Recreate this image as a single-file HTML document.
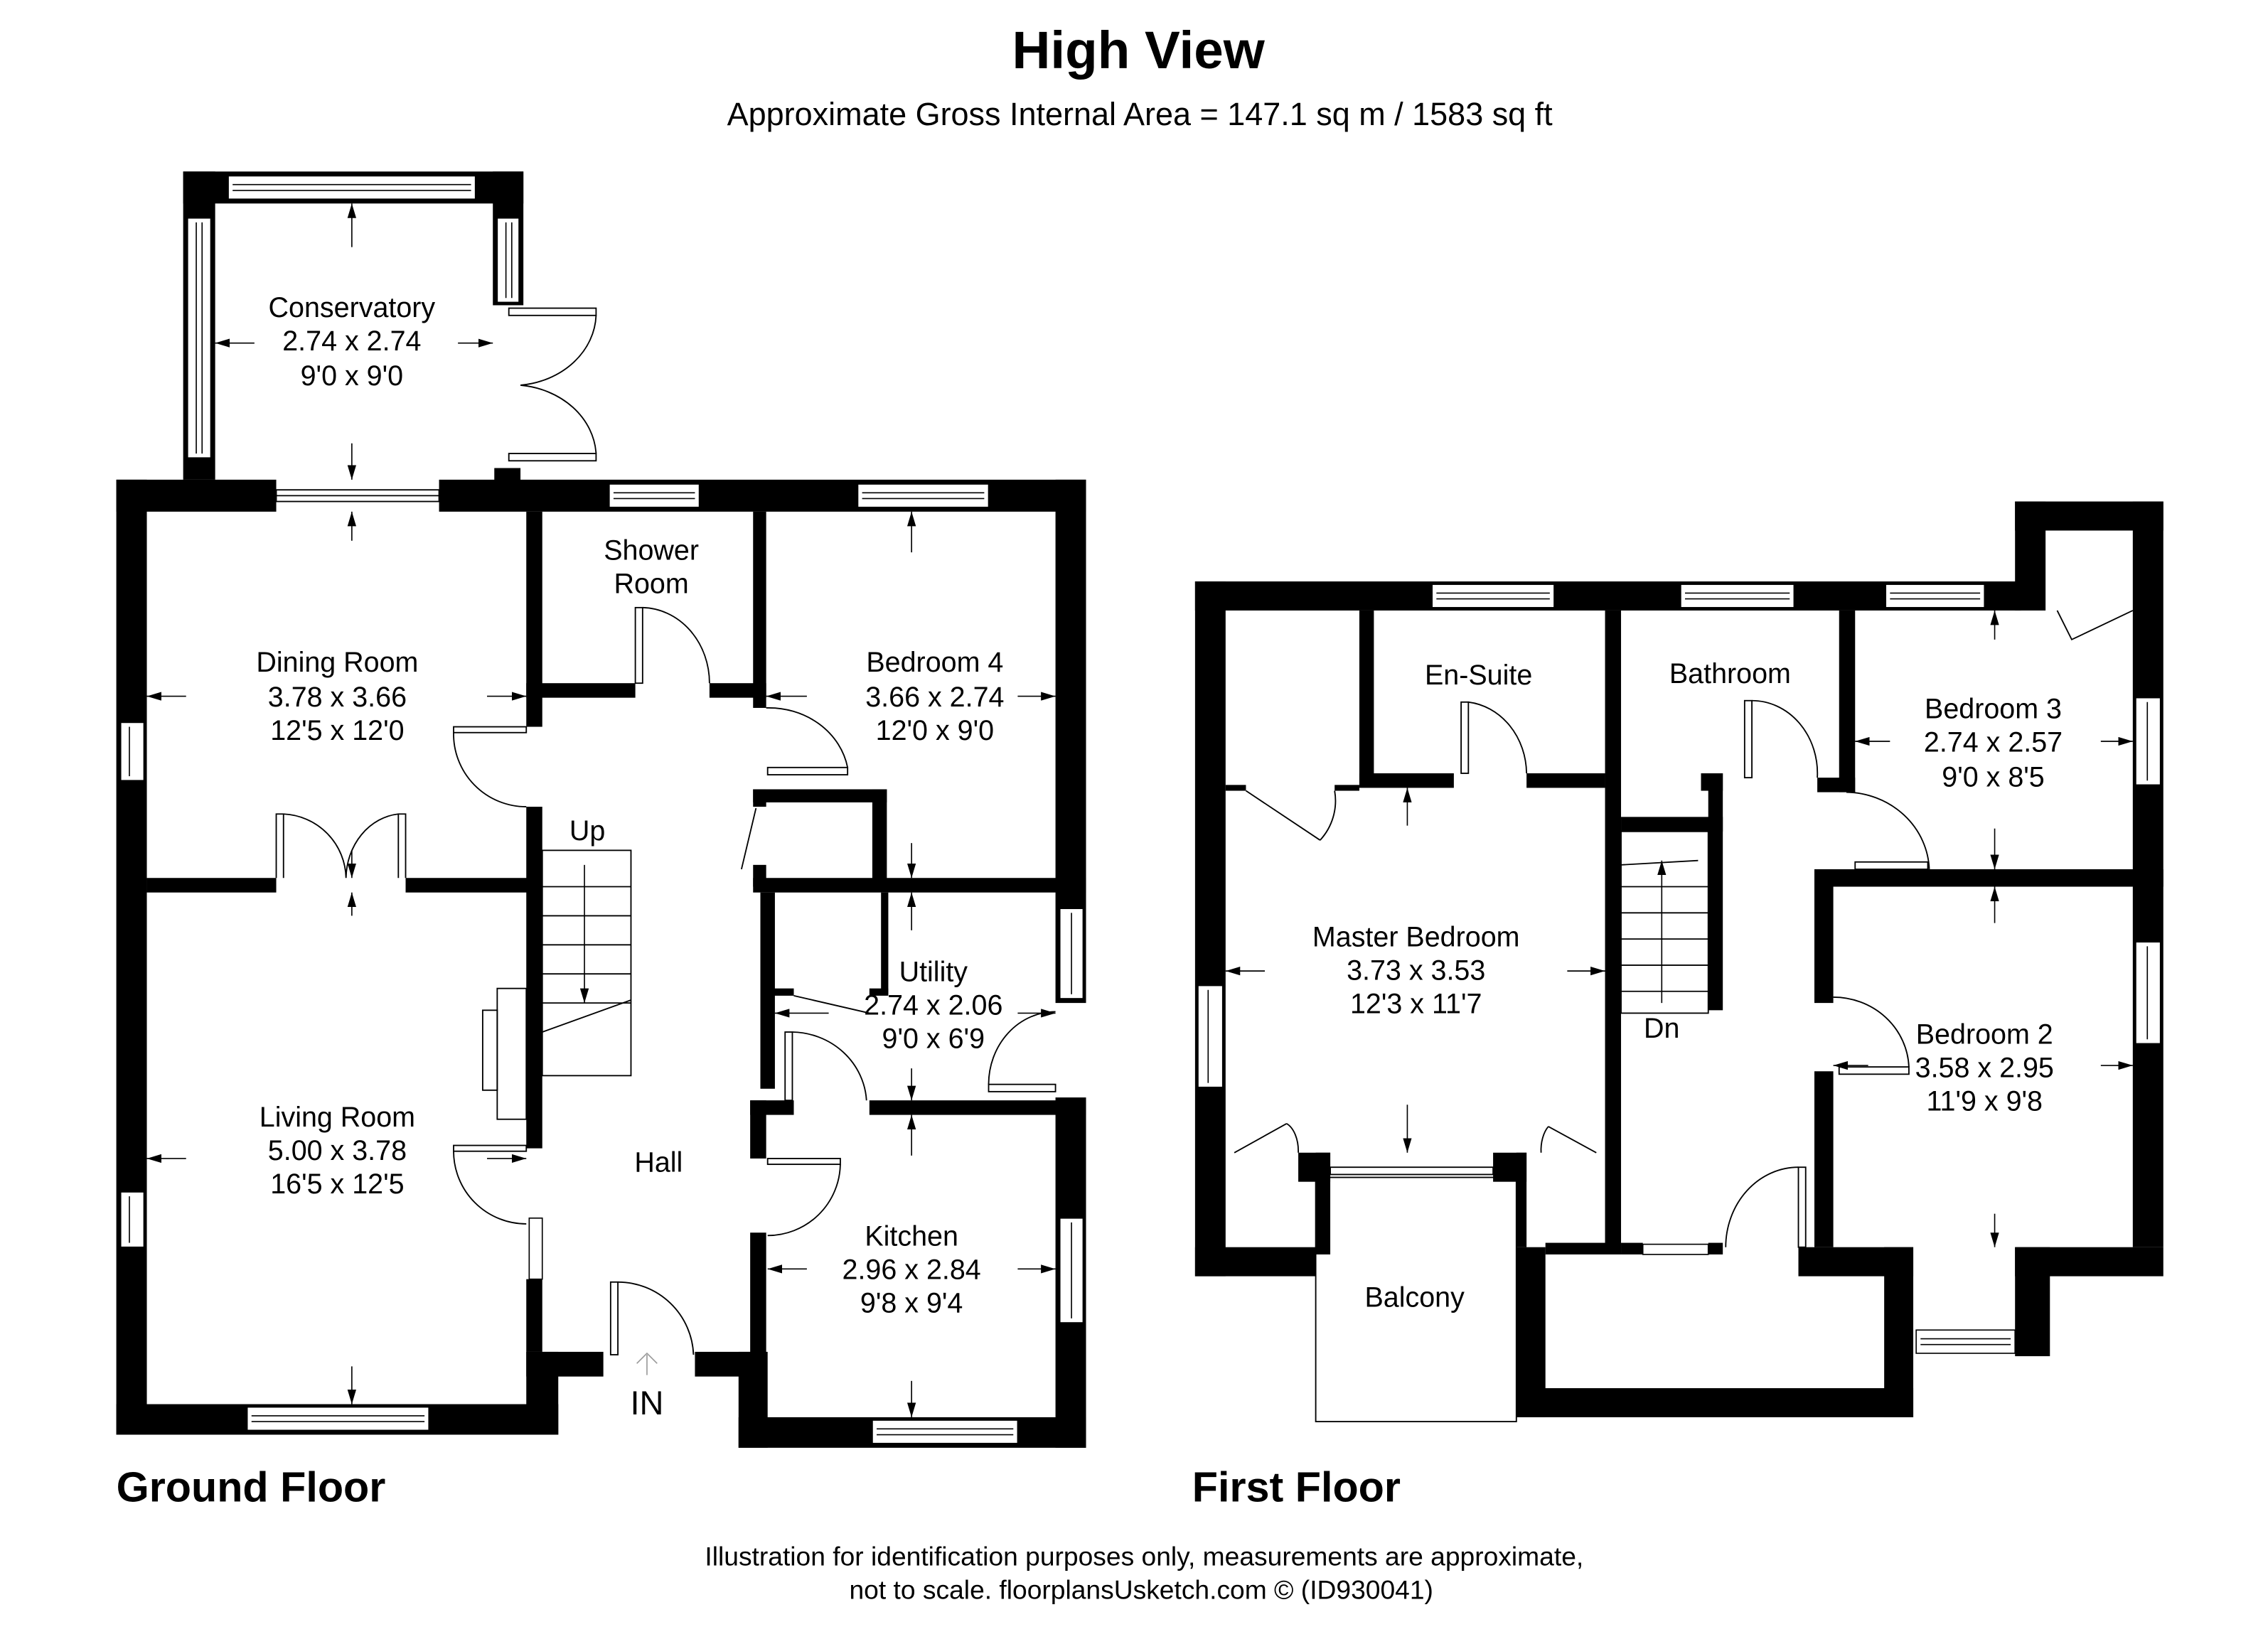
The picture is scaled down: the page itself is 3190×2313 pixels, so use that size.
<!DOCTYPE html>
<html><head><meta charset="utf-8"><style>
html,body{margin:0;padding:0;background:#fff;}
svg{display:block;}
text{font-family:"Liberation Sans",Arial,sans-serif;fill:#000;}
</style></head><body>
<svg width="3190" height="2313" viewBox="0 0 1560 1131" preserveAspectRatio="none" xmlns="http://www.w3.org/2000/svg">
<defs>
<marker id="a" viewBox="0 0 10 6" refX="10" refY="3" markerWidth="10" markerHeight="6" markerUnits="userSpaceOnUse" orient="auto"><path d="M0,0 L10,3 L0,6 z" fill="#000"/></marker>
</defs>
<rect width="1560" height="1131" fill="#fff"/>
<text x="783" y="47" font-size="36.5" font-weight="bold" text-anchor="middle">High View</text>
<text x="784" y="86" font-size="22" text-anchor="middle">Approximate Gross Internal Area = 147.1 sq m / 1583 sq ft</text>

<g fill="#000">
<rect x="126" y="118" width="234" height="22"/>
<rect x="126" y="118" width="22" height="212"/>
<rect x="339" y="118" width="21" height="92"/>
<rect x="340" y="322" width="18" height="10"/>
<rect x="80" y="330" width="110" height="22"/>
<rect x="302" y="330" width="445" height="22"/>
<rect x="80" y="330" width="21" height="657"/>
<rect x="80" y="966" width="304" height="21"/>
<rect x="362" y="930" width="22" height="57"/>
<rect x="362" y="930" width="53" height="17"/>
<rect x="478" y="930" width="40" height="17"/>
<rect x="508" y="930" width="20" height="66"/>
<rect x="508" y="975" width="239" height="21"/>
<rect x="726" y="330" width="21" height="360"/>
<rect x="726" y="755" width="21" height="241"/>
<rect x="101" y="604" width="89" height="10"/>
<rect x="279" y="604" width="93" height="10"/>
<rect x="362" y="352" width="11" height="148"/>
<rect x="362" y="555" width="11" height="235"/>
<rect x="362" y="880" width="11" height="50"/>
<rect x="362" y="470" width="75" height="10"/>
<rect x="488" y="470" width="39" height="10"/>
<rect x="518" y="352" width="9" height="135"/>
<rect x="518" y="543" width="92" height="9"/>
<rect x="600" y="543" width="10" height="63"/>
<rect x="518" y="543" width="9" height="12"/>
<rect x="518" y="595" width="9" height="15"/>
<rect x="518" y="604" width="229" height="10"/>
<rect x="523" y="614" width="10" height="135"/>
<rect x="516" y="757" width="30" height="10"/>
<rect x="516" y="757" width="11" height="40"/>
<rect x="516" y="848" width="11" height="85"/>
<rect x="598" y="757" width="149" height="10"/>
<rect x="606" y="614" width="5" height="70"/>
<rect x="598" y="680" width="13" height="5"/>
<rect x="530" y="680" width="16" height="5"/>

<rect x="822" y="400" width="568" height="20"/>
<rect x="1386" y="345" width="102" height="20"/>
<rect x="1386" y="345" width="21" height="75"/>
<rect x="1467" y="345" width="21" height="513"/>
<rect x="822" y="400" width="21" height="478"/>
<rect x="822" y="858" width="83" height="20"/>
<rect x="1043" y="858" width="20" height="117"/>
<rect x="1043" y="955" width="273" height="20"/>
<rect x="1296" y="858" width="20" height="117"/>
<rect x="1237" y="858" width="79" height="20"/>
<rect x="1386" y="858" width="102" height="20"/>
<rect x="1386" y="858" width="24" height="75"/>
<rect x="1104" y="420" width="11" height="438"/>
<rect x="935" y="420" width="10" height="120"/>
<rect x="935" y="532" width="65" height="10"/>
<rect x="1050" y="532" width="54" height="10"/>
<rect x="843" y="540" width="14" height="4"/>
<rect x="918" y="540" width="17" height="4"/>
<rect x="1265" y="420" width="11" height="125"/>
<rect x="1250" y="535" width="26" height="10"/>
<rect x="1170" y="532" width="15" height="12"/>
<rect x="1175" y="532" width="10" height="163"/>
<rect x="1115" y="562" width="70" height="10"/>
<rect x="1248" y="598" width="240" height="12"/>
<rect x="1248" y="598" width="13" height="92"/>
<rect x="1248" y="737" width="13" height="121"/>
<rect x="1115" y="855" width="15" height="8"/>
<rect x="1175" y="855" width="10" height="8"/>
<rect x="893" y="793" width="22" height="20"/>
<rect x="905" y="793" width="10" height="70"/>
<rect x="1027" y="793" width="23" height="20"/>
<rect x="1043" y="793" width="7" height="65"/>
<rect x="1063" y="855" width="52" height="8"/>
</g>

<g fill="#fff" stroke="#000" stroke-width="0.8">
<rect x="157" y="121" width="170" height="16"/><line x1="160" y1="127" x2="324" y2="127"/><line x1="160" y1="131" x2="324" y2="131"/>
<rect x="129" y="150" width="16" height="165"/><line x1="135" y1="153" x2="135" y2="312"/><line x1="139" y1="153" x2="139" y2="312"/>
<rect x="342" y="150" width="15" height="58"/><line x1="348" y1="153" x2="348" y2="205"/><line x1="352" y1="153" x2="352" y2="205"/>
<rect x="419" y="333" width="62" height="16"/><line x1="422" y1="339" x2="478" y2="339"/><line x1="422" y1="343" x2="478" y2="343"/>
<rect x="590" y="333" width="90" height="16"/><line x1="593" y1="339" x2="677" y2="339"/><line x1="593" y1="343" x2="677" y2="343"/>
<rect x="83" y="497" width="16" height="40"/><line x1="89" y1="500" x2="89" y2="534"/>
<rect x="83" y="820" width="16" height="38"/><line x1="89" y1="823" x2="89" y2="855"/>
<rect x="170" y="968" width="125" height="16"/><line x1="173" y1="974" x2="292" y2="974"/><line x1="173" y1="978" x2="292" y2="978"/>
<rect x="600" y="977" width="100" height="16"/><line x1="603" y1="983" x2="697" y2="983"/><line x1="603" y1="987" x2="697" y2="987"/>
<rect x="729" y="625" width="16" height="62"/><line x1="737" y1="628" x2="737" y2="684"/>
<rect x="729" y="838" width="16" height="72"/><line x1="737" y1="841" x2="737" y2="907"/>
<rect x="364" y="838" width="9" height="42"/>
<rect x="985" y="402" width="84" height="16"/><line x1="988" y1="408" x2="1066" y2="408"/><line x1="988" y1="412" x2="1066" y2="412"/>
<rect x="1156" y="402" width="78" height="16"/><line x1="1159" y1="408" x2="1231" y2="408"/><line x1="1159" y1="412" x2="1231" y2="412"/>
<rect x="1297" y="402" width="68" height="16"/><line x1="1300" y1="408" x2="1362" y2="408"/><line x1="1300" y1="412" x2="1362" y2="412"/>
<rect x="824" y="678" width="17" height="70"/><line x1="831" y1="681" x2="831" y2="745"/>
<rect x="1469" y="480" width="17" height="60"/><line x1="1477" y1="483" x2="1477" y2="537"/>
<rect x="1469" y="648" width="17" height="70"/><line x1="1477" y1="651" x2="1477" y2="715"/>
<rect x="1318" y="915" width="68" height="16"/><line x1="1321" y1="921" x2="1383" y2="921"/><line x1="1321" y1="925" x2="1383" y2="925"/>
<rect x="1130" y="856" width="45" height="7"/>
</g>

<g fill="none" stroke="#000" stroke-width="0.9">
<rect x="190" y="337" width="112" height="8"/>
<line x1="190" y1="341" x2="302" y2="341"/>
<rect x="350" y="212" width="60" height="5"/><path d="M410,217 A58,50 0 0 1 358,265"/>
<rect x="350" y="312" width="60" height="5"/><path d="M410,312 A58,50 0 0 0 358,265"/>
<rect x="437" y="418" width="5" height="52"/><path d="M442,418 A47,52 0 0 1 488,470"/>
<rect x="312" y="500" width="50" height="4"/><path d="M312,504 A50,50 0 0 0 362,555"/>
<rect x="528" y="528" width="55" height="5"/><path d="M583,528 A55,50 0 0 0 527,487"/>
<path d="M510,598 L520,556 M190,604 L190,560 L195,560 L195,604 M195,560 A45,45 0 0 1 238,604 M279,604 L279,560 L274,560 L274,604 M274,560 A40,45 0 0 0 238,604"/>
<rect x="373" y="585" width="61" height="155"/><path d="M373,610 H434 M373,630 H434 M373,650 H434 M373,670 H434 M373,690 H434 M373,710 L434,688"/>
<rect x="342" y="680" width="20" height="90"/><rect x="332" y="695" width="10" height="55"/>
<rect x="312" y="788" width="50" height="4"/><path d="M312,792 A50,50 0 0 0 362,842"/>
<rect x="420" y="882" width="5" height="50"/><path d="M425,882 A52,52 0 0 1 477,932"/>
<rect x="528" y="797" width="50" height="4"/><path d="M578,801 A50,50 0 0 1 528,850"/>
<rect x="540" y="710" width="5" height="47"/><path d="M545,710 A52,50 0 0 1 596,757"/>
<path d="M546,685 L598,697"/>
<rect x="680" y="746" width="46" height="5"/><path d="M680,746 A46,50 0 0 1 726,696"/>
<rect x="905" y="810" width="138" height="168"/>
<rect x="915" y="803" width="112" height="5"/>
<rect x="1005" y="483" width="5" height="49"/><path d="M1010,483 A45,50 0 0 1 1050,532"/>
<rect x="1200" y="482" width="5" height="53"/><path d="M1205,482 A45,50 0 0 1 1250,535"/>
<path d="M857,544 L908,578 M918,544 A40,40 0 0 1 908,578"/>
<path d="M849,793 L885,773 M893,793 A12,20 0 0 0 885,773"/>
<path d="M1098,793 L1065,775 M1060,793 A12,20 0 0 1 1065,775"/>
<path d="M1270,545 A58,55 0 0 1 1327,598"/><rect x="1276" y="593" width="50" height="5"/>
<rect x="1265" y="734" width="48" height="5"/><path d="M1313,734 A52,50 0 0 0 1261,686"/>
<rect x="1237" y="803" width="5" height="55"/><path d="M1237,803 A50,55 0 0 0 1187,858"/>
<path d="M1415,420 L1425,440 L1467,420"/>
<rect x="1115" y="572" width="60" height="125"/><path d="M1115,595 L1168,592 M1115,610 H1175 M1115,628 H1175 M1115,646 H1175 M1115,664 H1175 M1115,682 H1175"/>
</g>

<g stroke="#000" stroke-width="0.8" marker-end="url(#a)">
<line x1="242" y1="170" x2="242" y2="140"/><line x1="242" y1="305" x2="242" y2="330"/><line x1="242" y1="372" x2="242" y2="352"/>
<line x1="175" y1="236" x2="148" y2="236"/><line x1="315" y1="236" x2="339" y2="236"/>
<line x1="128" y1="479" x2="101" y2="479"/><line x1="335" y1="479" x2="362" y2="479"/>
<line x1="242" y1="585" x2="242" y2="604"/><line x1="242" y1="630" x2="242" y2="614"/>
<line x1="128" y1="797" x2="101" y2="797"/><line x1="335" y1="797" x2="362" y2="797"/>
<line x1="242" y1="940" x2="242" y2="966"/>
<line x1="402" y1="595" x2="402" y2="690"/>
<line x1="627" y1="380" x2="627" y2="352"/><line x1="555" y1="479" x2="527" y2="479"/><line x1="700" y1="479" x2="726" y2="479"/>
<line x1="627" y1="580" x2="627" y2="604"/><line x1="627" y1="640" x2="627" y2="614"/>
<line x1="570" y1="697" x2="533" y2="697"/><line x1="700" y1="697" x2="726" y2="697"/>
<line x1="627" y1="735" x2="627" y2="757"/><line x1="627" y1="795" x2="627" y2="767"/>
<line x1="555" y1="873" x2="528" y2="873"/><line x1="700" y1="873" x2="726" y2="873"/>
<line x1="627" y1="950" x2="627" y2="975"/>
<line x1="870" y1="668" x2="843" y2="668"/><line x1="1078" y1="668" x2="1104" y2="668"/>
<line x1="968" y1="568" x2="968" y2="542"/><line x1="968" y1="760" x2="968" y2="793"/>
<line x1="1372" y1="440" x2="1372" y2="420"/><line x1="1372" y1="570" x2="1372" y2="598"/><line x1="1372" y1="635" x2="1372" y2="610"/>
<line x1="1300" y1="510" x2="1276" y2="510"/><line x1="1445" y1="510" x2="1467" y2="510"/>
<line x1="1285" y1="733" x2="1261" y2="733"/><line x1="1445" y1="733" x2="1467" y2="733"/>
<line x1="1372" y1="835" x2="1372" y2="858"/>
<line x1="1143" y1="690" x2="1143" y2="592"/>
</g>
<path d="M445,946 V932 M438,938 L445,931 L452,938" stroke="#999" fill="none" stroke-width="0.8"/>

<g font-size="19.3" text-anchor="middle">
<text x="242" y="218">Conservatory</text><text x="242" y="241">2.74 x 2.74</text><text x="242" y="265">9'0 x 9'0</text>
<text x="448" y="385">Shower</text><text x="448" y="408">Room</text>
<text x="232" y="462">Dining Room</text><text x="232" y="486">3.78 x 3.66</text><text x="232" y="509">12'5 x 12'0</text>
<text x="643" y="462">Bedroom 4</text><text x="643" y="486">3.66 x 2.74</text><text x="643" y="509">12'0 x 9'0</text>
<text x="404" y="578">Up</text>
<text x="642" y="675">Utility</text><text x="642" y="698">2.74 x 2.06</text><text x="642" y="721">9'0 x 6'9</text>
<text x="232" y="775">Living Room</text><text x="232" y="798">5.00 x 3.78</text><text x="232" y="821">16'5 x 12'5</text>
<text x="453" y="806">Hall</text>
<text x="627" y="857">Kitchen</text><text x="627" y="880">2.96 x 2.84</text><text x="627" y="903">9'8 x 9'4</text>
<text x="445" y="973" font-size="23">IN</text>
<text x="1017" y="471">En-Suite</text>
<text x="1190" y="470">Bathroom</text>
<text x="1371" y="494">Bedroom 3</text><text x="1371" y="517">2.74 x 2.57</text><text x="1371" y="541">9'0 x 8'5</text>
<text x="974" y="651">Master Bedroom</text><text x="974" y="674">3.73 x 3.53</text><text x="974" y="697">12'3 x 11'7</text>
<text x="1143" y="714">Dn</text>
<text x="1365" y="718">Bedroom 2</text><text x="1365" y="741">3.58 x 2.95</text><text x="1365" y="764">11'9 x 9'8</text>
<text x="973" y="899">Balcony</text>
</g>
<text x="80" y="1033" font-size="29" font-weight="bold">Ground Floor</text>
<text x="820" y="1033" font-size="29" font-weight="bold">First Floor</text>
<text x="787" y="1077" font-size="18.2" text-anchor="middle">Illustration for identification purposes only, measurements are approximate,</text>
<text x="785" y="1100" font-size="18.2" text-anchor="middle">not to scale. floorplansUsketch.com © (ID930041)</text>
</svg>
</body></html>
